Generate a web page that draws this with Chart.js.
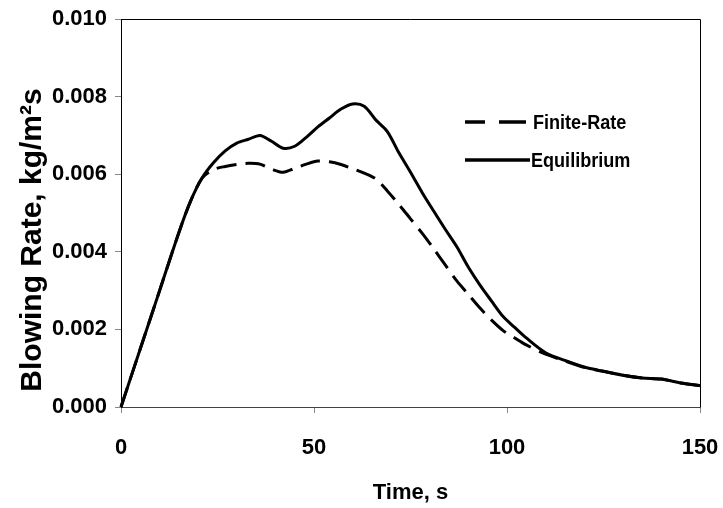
<!DOCTYPE html>
<html>
<head>
<meta charset="utf-8">
<script src="https://cdn.jsdelivr.net/npm/chart.js@4.4.1/dist/chart.umd.min.js"></script>
<style>
  body { margin: 0; background: #fff; }
  #wrap { width: 723px; height: 508px; }
</style>
</head>
<body>
<div id="wrap"><canvas id="myChart" width="723" height="508"></canvas></div>
<script>
// time (s) and blowing rate (kg/m2s) for both models
const times = [0, 5, 10, 15, 18, 21, 24, 27, 30, 33, 36, 39, 42, 45, 48, 51, 54, 57, 60, 63, 66, 69, 72, 75,
  78, 81, 84, 87, 90, 93, 96, 99, 102, 105, 110, 115, 120, 125, 130, 135, 140, 145, 150, 152];
const equilibrium = [0, 0.0015, 0.0030, 0.0045, 0.0053, 0.0059, 0.0063, 0.0066, 0.0068, 0.0069, 0.0070, 0.00685,
  0.00667, 0.00672, 0.00695, 0.00722, 0.00745, 0.00768, 0.00781, 0.00775, 0.0074, 0.0071, 0.00655, 0.00605,
  0.00553, 0.00505, 0.00458, 0.00413, 0.0036, 0.00314, 0.00273, 0.00233, 0.00205, 0.00178, 0.0014, 0.0012,
  0.00103, 0.00092, 0.00082, 0.00075, 0.00072, 0.00062, 0.00055, 0.00052];
const finiteRate = [0, 0.0015, 0.0030, 0.0045, 0.0053, 0.0059, 0.00612, 0.0062, 0.00625, 0.00628, 0.00626, 0.00613,
  0.00605, 0.00615, 0.00626, 0.00634, 0.00632, 0.00625, 0.00614, 0.00603, 0.00588, 0.00557, 0.00522, 0.00485,
  0.00448, 0.00408, 0.00366, 0.00325, 0.0029, 0.00255, 0.00224, 0.00197, 0.00178, 0.0016, 0.00136, 0.00119,
  0.00102, 0.00092, 0.00082, 0.00075, 0.00072, 0.00062, 0.00055, 0.00052];
const xTicks = [0, 50, 100, 150];
const yTicks = [0, 0.002, 0.004, 0.006, 0.008, 0.010];

const FONT = "'Liberation Sans', Arial, sans-serif";

function toPoints(ys) {
  return times.map((t, i) => ({ x: t, y: ys[i] }));
}

// frame, y title and legend drawn on top of the chart
const extras = {
  id: "extras",
  afterDraw(chart) {
    const { ctx, chartArea: a } = chart;
    ctx.save();

    // top and right edges of the box
    ctx.strokeStyle = "#000";
    ctx.lineWidth = 1;
    ctx.beginPath();
    ctx.moveTo(a.left, a.top + 0.5);
    ctx.lineTo(a.right + 0.5, a.top + 0.5);
    ctx.lineTo(a.right + 0.5, a.bottom);
    ctx.stroke();

    // y axis title
    ctx.fillStyle = "#000";
    ctx.font = "bold 30px " + FONT;
    ctx.textAlign = "center";
    ctx.textBaseline = "middle";
    ctx.translate(33, 240);
    ctx.rotate(-Math.PI / 2);
    ctx.fillText("Blowing Rate, kg/m\u00b2s", 0, 0);
    ctx.setTransform(1, 0, 0, 1, 0, 0);

    // legend
    const items = [
      { text: "Finite-Rate", y: 122, dash: [20, 14, 30, 14], x2: 526, tx: 533 },
      { text: "Equilibrium", y: 160, dash: [], x2: 530, tx: 531 }
    ];
    items.forEach(it => {
      ctx.setLineDash(it.dash);
      ctx.lineWidth = 3.5;
      ctx.beginPath();
      ctx.moveTo(465, it.y);
      ctx.lineTo(it.x2, it.y);
      ctx.stroke();
      ctx.setLineDash([]);
      ctx.save();
      ctx.translate(it.tx, it.y + 7);
      ctx.scale(0.86, 1);
      ctx.font = "bold 21px " + FONT;
      ctx.textAlign = "left";
      ctx.textBaseline = "alphabetic";
      ctx.fillText(it.text, 0, 0);
      ctx.restore();
    });

    ctx.restore();
  }
};

const ctx = document.getElementById("myChart").getContext("2d");
new Chart(ctx, {
  type: "line",
  data: {
    datasets: [
      {
        label: "Finite-Rate",
        data: toPoints(finiteRate),
        borderColor: "#000",
        borderWidth: 3,
        borderDash: [20, 9],
        pointRadius: 0,
        tension: 0.3,
        clip: false
      },
      {
        label: "Equilibrium",
        data: toPoints(equilibrium),
        borderColor: "#000",
        borderWidth: 3,
        pointRadius: 0,
        tension: 0.3,
        clip: false
      }
    ]
  },
  options: {
    responsive: false,
    animation: false,
    layout: { padding: { top: 19, right: 23, left: 0, bottom: 0 } },
    plugins: {
      legend: { display: false },
      tooltip: { enabled: false }
    },
    scales: {
      x: {
        type: "linear",
        min: 0,
        max: 150,
        afterFit(scale) {
          scale.height = 101;
          scale.paddingLeft = 0;
          scale.paddingRight = 0;
        },
        afterBuildTicks(scale) { scale.ticks = xTicks.map(v => ({ value: v })); },
        border: { color: "#444", width: 1 },
        grid: { drawOnChartArea: false, tickLength: 6, color: "#888" },
        ticks: {
          color: "#000",
          padding: 22,
          maxRotation: 0,
          font: { family: FONT, size: 22, weight: "bold" }
        },
        title: {
          display: true,
          text: "Time, s",
          color: "#000",
          padding: { top: 0, bottom: 2 },
          font: { family: FONT, size: 22, weight: "bold" }
        }
      },
      y: {
        min: 0,
        max: 0.01,
        afterFit(scale) {
          scale.width = 121;
          scale.paddingTop = 0;
          scale.paddingBottom = 0;
        },
        afterBuildTicks(scale) { scale.ticks = yTicks.map(v => ({ value: v })); },
        border: { color: "#000", width: 1 },
        grid: { drawOnChartArea: false, tickLength: 6, color: "#888" },
        ticks: {
          color: "#000",
          padding: 8,
          callback: v => v.toFixed(3),
          font: { family: FONT, size: 22, weight: "bold" }
        }
      }
    }
  },
  plugins: [extras]
});
</script>
</body>
</html>
